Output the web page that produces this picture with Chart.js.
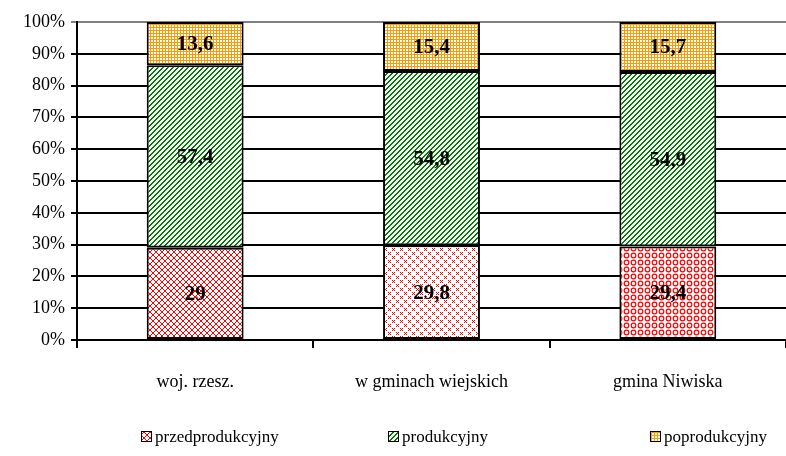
<!DOCTYPE html>
<html>
<head>
<meta charset="utf-8">
<script src="https://cdn.jsdelivr.net/npm/chart.js@4.4.0/dist/chart.umd.min.js"></script>
<style>
  html, body { margin: 0; padding: 0; background: #fff; }
</style>
</head>
<body>
<canvas id="myChart" width="786" height="456"></canvas>
<script>
// dane z wykresu
const labels = ['woj. rzesz.', 'w gminach wiejskich', 'gmina Niwiska'];
const seriesNames = ['przedprodukcyjny', 'produkcyjny', 'poprodukcyjny'];
const przedprodukcyjny = [29, 29.8, 29.4];
const produkcyjny = [57.4, 54.8, 54.9];
const poprodukcyjny = [13.6, 15.4, 15.7];
const yMax = 100;
const yStep = 10;

const SERIF = '"Liberation Serif", "Times New Roman", serif';

const context = document.getElementById('myChart').getContext('2d');

/* wzory wypełnienia (jak w Excelu) */
function makePattern(size, bg, draw) {
  const c = document.createElement('canvas');
  c.width = size; c.height = size;
  const g = c.getContext('2d');
  g.fillStyle = bg;
  g.fillRect(0, 0, size, size);
  draw(g, size);
  return context.createPattern(c, 'repeat');
}

const RED = '#ff0000';
// kratka ukośna
const redLattice = makePattern(6, '#fff', (g, s) => {
  g.fillStyle = RED;
  for (let i = 0; i < s; i++) {
    g.fillRect(i, i, 1, 1);
    g.fillRect(s - 1 - i, i, 1, 1);
  }
});
// małe krzyżyki
const redCrosses = makePattern(8, '#fff', (g) => {
  g.fillStyle = RED;
  const xs = [[0, 0], [4, 4]];
  xs.forEach(([ox, oy]) => {
    for (let i = 0; i < 3; i++) {
      g.fillRect(ox + i, oy + i, 1, 1);
      g.fillRect(ox + 2 - i, oy + i, 1, 1);
    }
  });
});
// kółeczka
const redCircles = makePattern(7, '#fff', (g) => {
  g.strokeStyle = RED;
  g.lineWidth = 1.2;
  g.beginPath();
  g.arc(3.5, 3.5, 2.3, 0, Math.PI * 2);
  g.stroke();
});
// zielone skośne paski
const greenStripes = makePattern(5, '#fff', (g, s) => {
  g.fillStyle = '#008000';
  for (let i = 0; i < s; i++) {
    g.fillRect(i, s - 1 - i, 1, 1);
    g.fillRect((i + 1) % s, s - 1 - i, 1, 1);
  }
});
// pomarańczowa kratka
const orangeGrid = makePattern(3, '#fff', (g, s) => {
  g.fillStyle = '#ff9900';
  g.fillRect(0, 0, s, 1);
  g.fillRect(0, 0, 1, s);
});

/* etykiety wartości w słupkach */
const valueLabels = {
  id: 'valueLabels',
  afterDatasetsDraw(chart) {
    const ctx = chart.ctx;
    ctx.save();
    ctx.font = 'bold 21px ' + SERIF;
    ctx.fillStyle = '#000';
    ctx.textAlign = 'center';
    ctx.textBaseline = 'middle';
    chart.data.datasets.forEach((ds, i) => {
      chart.getDatasetMeta(i).data.forEach((bar, j) => {
        const p = bar.getProps(['x', 'y', 'base'], true);
        ctx.fillText(String(ds.data[j]).replace('.', ','), p.x, (p.y + p.base) / 2 + 1);
      });
    });
    ctx.restore();
  }
};

/* legenda na dole, rozłożona jak w Excelu */
const legendXs = [141, 388, 650];
const bottomLegend = {
  id: 'bottomLegend',
  afterDraw(chart) {
    const ctx = chart.ctx;
    const y = 437;
    ctx.save();
    ctx.font = '17px ' + SERIF;
    ctx.textBaseline = 'middle';
    chart.data.datasets.forEach((ds, i) => {
      const bg = Array.isArray(ds.backgroundColor) ? ds.backgroundColor[0] : ds.backgroundColor;
      const x = legendXs[i];
      ctx.fillStyle = bg;
      ctx.fillRect(x, y - 5, 10, 10);
      ctx.strokeStyle = '#000';
      ctx.lineWidth = 1;
      ctx.strokeRect(x + 0.5, y - 5.5, 10, 10);
      ctx.fillStyle = '#000';
      ctx.fillText(ds.label, x + 14, y + 1);
    });
    ctx.restore();
  }
};

const data = {
  labels: labels,
  datasets: [
    {
      label: seriesNames[0],
      data: przedprodukcyjny,
      backgroundColor: [redLattice, redCrosses, redCircles],
    },
    {
      label: seriesNames[1],
      data: produkcyjny,
      backgroundColor: greenStripes,
    },
    {
      label: seriesNames[2],
      data: poprodukcyjny,
      backgroundColor: orangeGrid,
    },
  ].map(d => Object.assign(d, {
    borderColor: '#000',
    borderWidth: 2,
    borderSkipped: false,
    categoryPercentage: 1,
    barPercentage: 0.41,
  })),
};

const config = {
  type: 'bar',
  data: data,
  plugins: [valueLabels, bottomLegend],
  options: {
    responsive: false,
    animation: false,
    devicePixelRatio: 1,
    layout: { padding: { top: 22, right: 0, bottom: 56, left: 0 } },
    plugins: {
      legend: { display: false },
      tooltip: { enabled: false },
    },
    scales: {
      x: {
        stacked: true,
        offset: true,
        grid: {
          offset: true,
          drawOnChartArea: false,
          color: '#000',
          lineWidth: 2,
          tickLength: 8,
        },
        border: { color: '#000', width: 2 },
        ticks: {
          color: '#000',
          font: { family: SERIF, size: 18 },
          padding: 23,
          maxRotation: 0,
        },
        afterFit(scale) { scale.height = 60; },
      },
      y: {
        stacked: true,
        min: 0,
        max: yMax,
        grid: {
          color: (c) => (c.tick && c.tick.value === yMax ? '#808080' : '#000'),
          lineWidth: 2,
          tickLength: 6,
        },
        border: { color: '#000', width: 2 },
        ticks: {
          stepSize: yStep,
          color: '#000',
          font: { family: SERIF, size: 18 },
          padding: 6,
          callback: (v) => v + '%',
        },
        afterFit(scale) { scale.width = 77; },
      },
    },
  },
};

chart = new Chart(context, config);
</script>
</body>
</html>
